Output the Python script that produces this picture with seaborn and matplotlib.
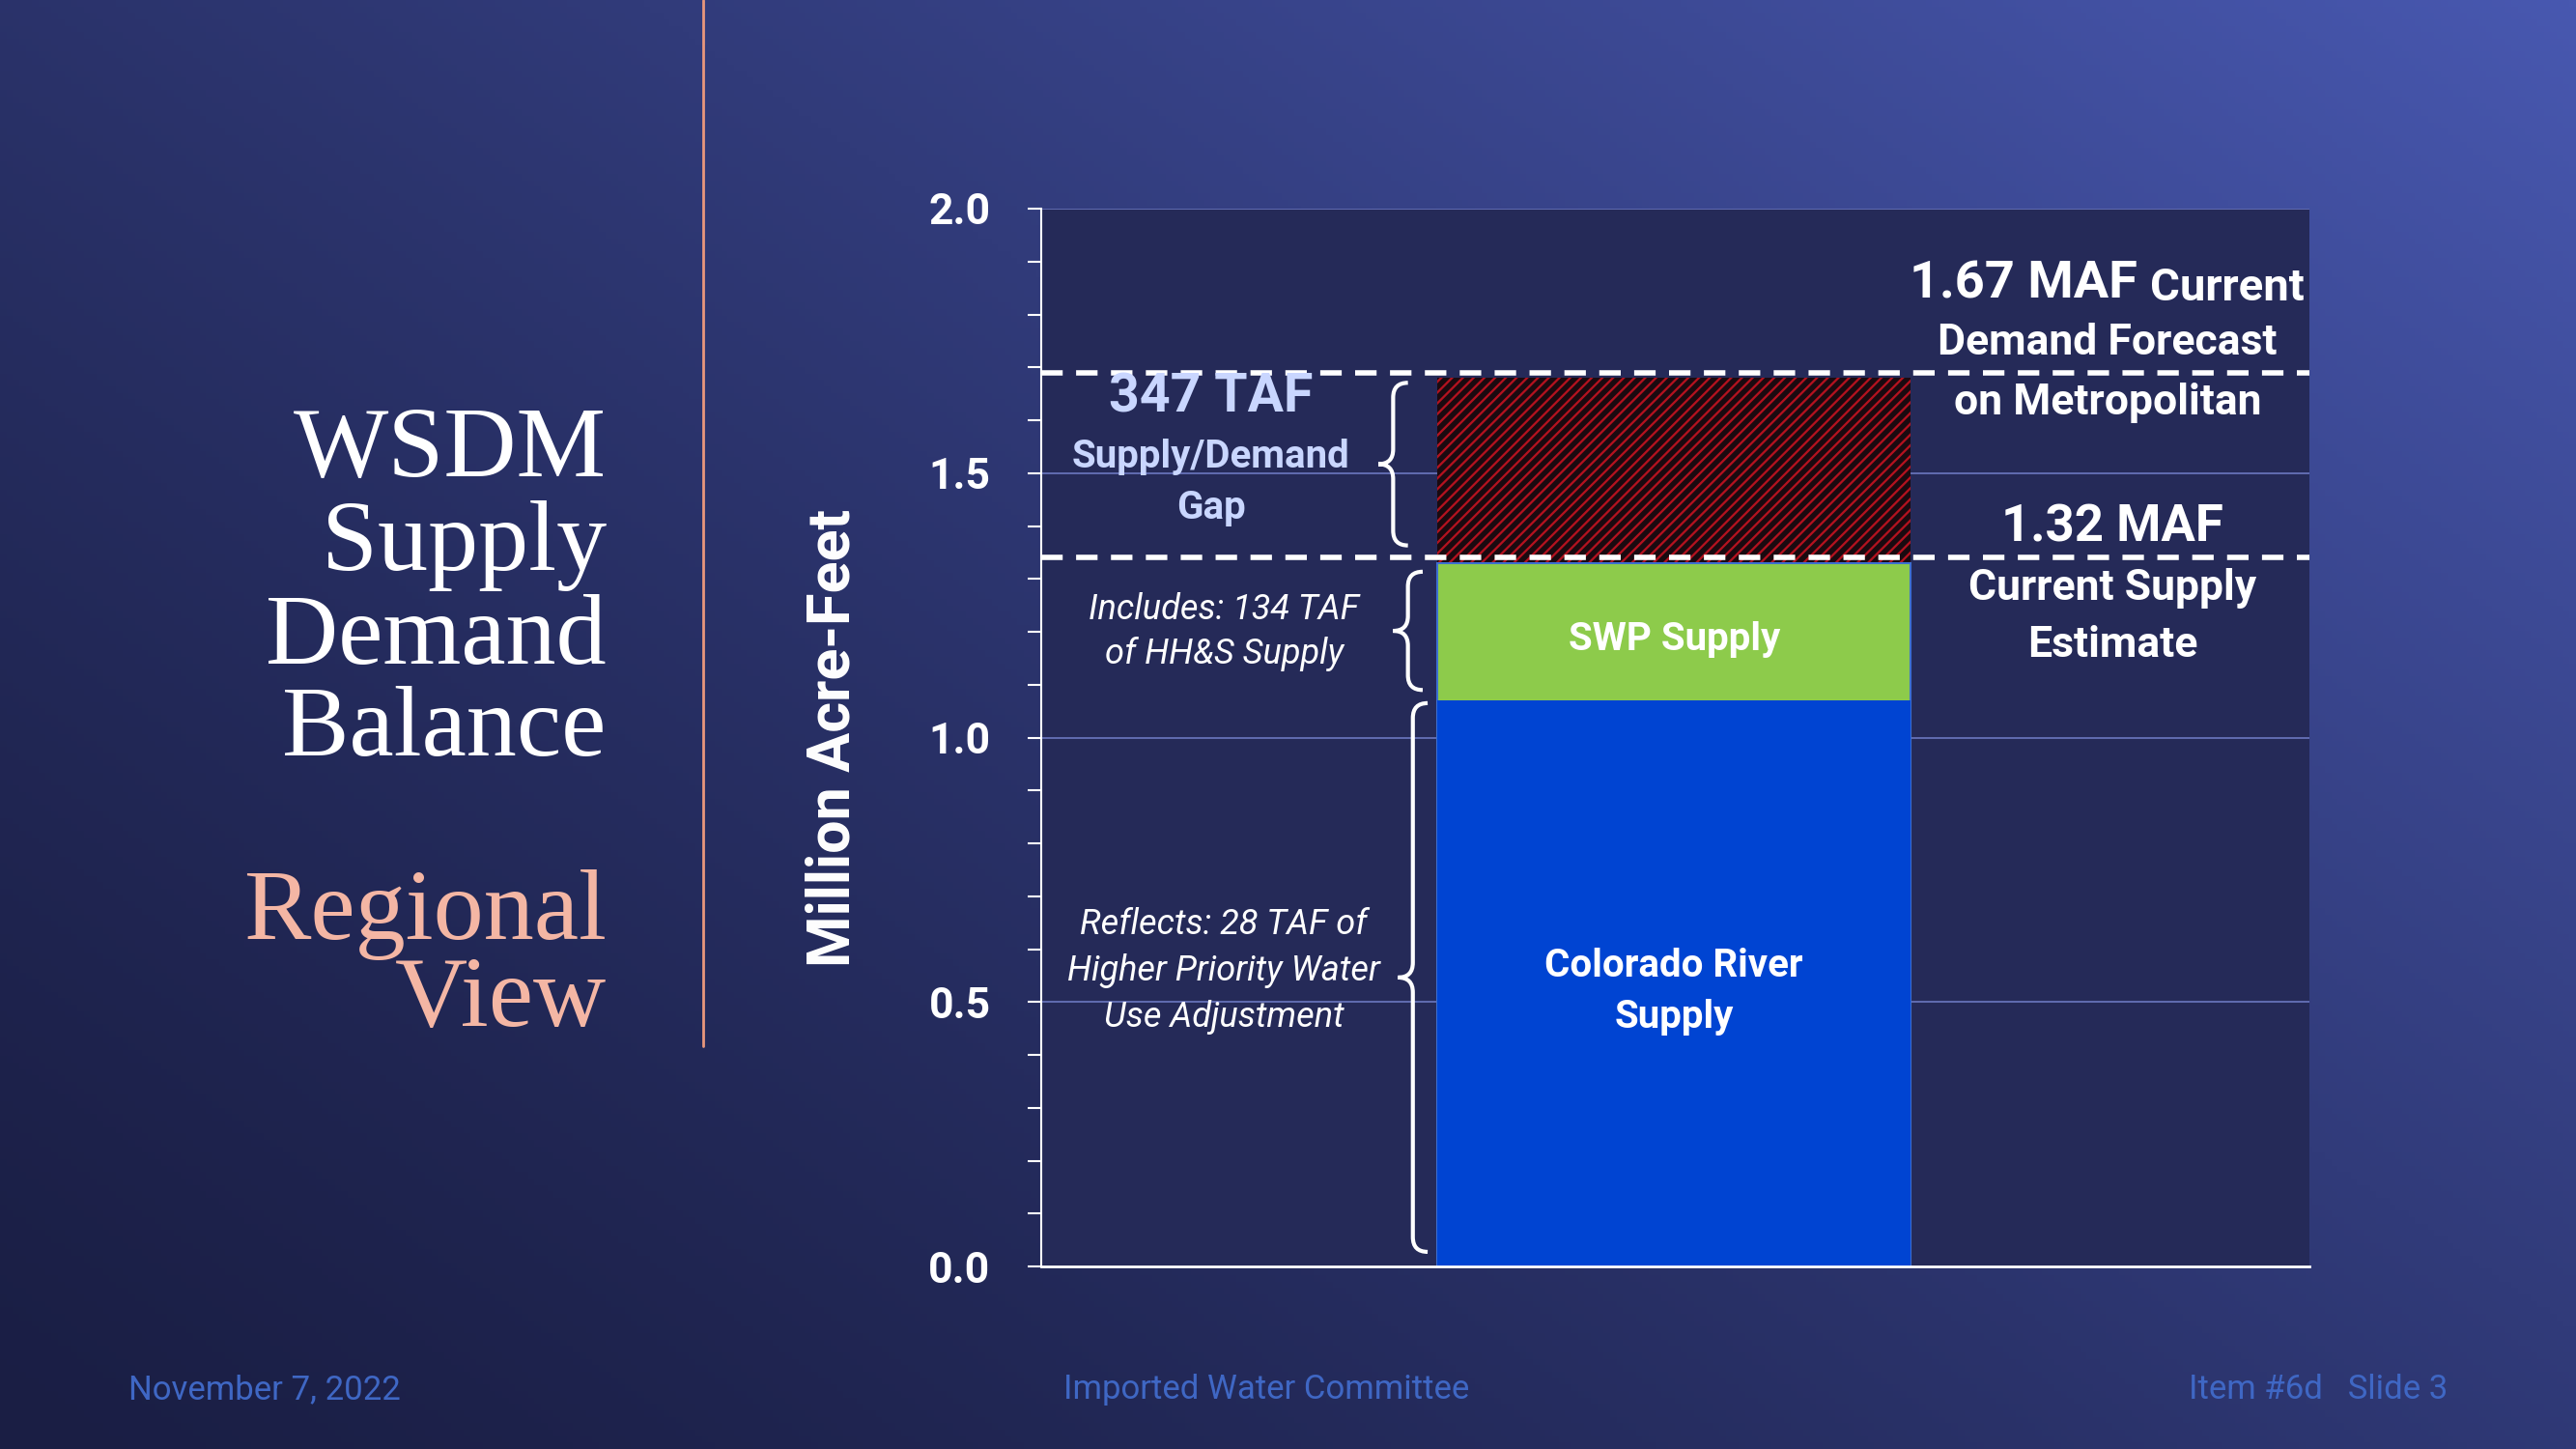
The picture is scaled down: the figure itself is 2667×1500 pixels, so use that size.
import numpy as np
import matplotlib
matplotlib.use("Agg")
import matplotlib.pyplot as plt
import seaborn as sns
from matplotlib.path import Path
from matplotlib.patches import PathPatch

# values (million acre-feet)
layers = ["Demand Gap", "SWP Supply", "Colorado River Supply"]
layer_tops = [1.68, 1.33, 1.07]          # cumulative tops, drawn back to front
layer_colors = ["#b3121f", "#8dcb4b", "#0044d2"]
demand_line = 1.69
supply_line = 1.34
yticks = [0.0, 0.5, 1.0, 1.5, 2.0]

sns.set_theme(style="white")
plt.rcParams["font.family"] = ["Roboto", "DejaVu Sans"]
plt.rcParams["hatch.linewidth"] = 4.0

W, H = 1568, 882  # reference pixel frame used for placement
fig = plt.figure(figsize=(26.67, 15), dpi=100)

def fx(x):
    return x / W

def fy(y):
    return 1 - y / H

# gradient background
bg = fig.add_axes([0, 0, 1, 1])
gx, gy = np.meshgrid(np.linspace(0, 1, 400), np.linspace(0, 1, 225))
t = np.clip(0.55 * gx + 0.45 * (1 - gy), 0, 1)[..., None]
c0 = np.array([0x1a, 0x1e, 0x44]) / 255
c1 = np.array([0x48, 0x58, 0xb0]) / 255
img = c0 + (c1 - c0) * t ** 1.3
bg.imshow(img, aspect="auto", extent=[0, 1, 0, 1], origin="upper")
bg.set_axis_off()

ax = fig.add_axes([fx(634), fy(771), fx(1406) - fx(634), fy(127) - fy(771)])
ax.set_facecolor("#252a58")
for name, top, col in zip(layers, layer_tops, layer_colors):
    sns.barplot(x=["bar"], y=[top], color=col, ax=ax, width=0.8,
                saturation=1, edgecolor="none")
gap_patch, swp_patch, col_patch = ax.patches[0], ax.patches[1], ax.patches[2]
gap_patch.set_facecolor("#b3121f")
gap_patch.set_hatch("///")
gap_patch.set_edgecolor("#1a0a10")
gap_patch.set_linewidth(0)
swp_patch.set_edgecolor("#3d6fd0")
swp_patch.set_linewidth(1.5)

ax.set_xlim(-1.069, 1.076)
ax.set_ylim(0, 2.0)
ax.set_yticks(yticks)
ax.set_yticklabels([f"{v:.1f}" for v in yticks], fontsize=32, fontweight="bold", color="white")
ax.set_yticks(np.arange(0, 2.01, 0.1), minor=True)
ax.tick_params(axis="y", which="both", direction="out", left=True, color="white",
               length=10, width=1.5, pad=28)
ax.set_xticks([])
ax.set_xlabel("")
ax.set_ylabel("Million Acre-Feet", fontsize=44, fontweight="bold", color="white", labelpad=50)
for v in yticks[1:]:
    ax.axhline(v, color="#6b78c0", lw=1.2, zorder=0.5)
for s in ["top", "right"]:
    ax.spines[s].set_visible(False)
ax.spines["left"].set_color("white")
ax.spines["bottom"].set_color("white")
ax.spines["left"].set_linewidth(1.5)
ax.spines["bottom"].set_linewidth(2)
ax.axhline(demand_line, color="white", lw=4, ls=(0, (4, 2.5)), zorder=5)
ax.axhline(supply_line, color="white", lw=4, ls=(0, (4, 2.5)), zorder=5)

# braces
def brace(x0, y1, y2, r=9):
    ym = (y1 + y2) / 2
    pts = [(x0 + r, y1), (x0, y1), (x0, y1 + r), (x0, ym - r), (x0, ym), (x0 - r, ym),
           (x0, ym), (x0, ym + r), (x0, y2 - r), (x0, y2), (x0 + r, y2)]
    codes = [Path.MOVETO, Path.CURVE3, Path.CURVE3, Path.LINETO, Path.CURVE3, Path.CURVE3,
             Path.CURVE3, Path.CURVE3, Path.LINETO, Path.CURVE3, Path.CURVE3]
    p = Path([(fx(a), fy(b)) for a, b in pts], codes)
    fig.add_artist(PathPatch(p, fill=False, ec="white", lw=3, transform=fig.transFigure))

brace(848, 233, 332)
brace(857, 348, 420)
brace(860, 428, 762)

def txt(x, y, s, size, **kw):
    kw.setdefault("color", "white")
    fig.text(fx(x), fy(y), s, fontsize=size, ha=kw.pop("ha", "center"), va="center", **kw)

lb = "#c9d6ff"
txt(737, 242, "347 TAF", 40, fontweight="bold", color=lb)
txt(737, 278, "Supply/Demand", 29, fontweight="bold", color=lb)
txt(737, 309, "Gap", 29, fontweight="bold", color=lb)
txt(745, 371, "Includes: 134 TAF", 26, style="italic")
txt(745, 398, "of HH&S Supply", 26, style="italic")
txt(745, 563, "Reflects: 28 TAF of", 26, style="italic")
txt(745, 591, "Higher Priority Water", 26, style="italic")
txt(745, 619, "Use Adjustment", 26, style="italic")
txt(1019, 389, "SWP Supply", 29, fontweight="bold")
txt(1019, 588, "Colorado River", 29, fontweight="bold")
txt(1019, 619, "Supply", 29, fontweight="bold")
txt(1301, 173, "1.67 MAF", 39, fontweight="bold", ha="right")
txt(1309, 175, "Current", 34, fontweight="bold", ha="left")
txt(1283, 209, "Demand Forecast", 32, fontweight="bold")
txt(1283, 245, "on Metropolitan", 32, fontweight="bold")
txt(1286, 321, "1.32 MAF", 38, fontweight="bold")
txt(1286, 358, "Current Supply", 32, fontweight="bold")
txt(1286, 393, "Estimate", 32, fontweight="bold")

# title block
serif = ["Liberation Serif", "DejaVu Serif"]
for y, s in zip([275, 332, 389, 445], ["WSDM", "Supply", "Demand", "Balance"]):
    txt(369, y, s, 75, ha="right", family=serif)
for y, s in zip([557, 610], ["Regional", "View"]):
    txt(369, y, s, 75, ha="right", family=serif, color="#f4b6a4")
fig.add_artist(plt.Line2D([fx(428), fx(428)], [fy(0), fy(637)], color="#e8967c", lw=2,
                          transform=fig.transFigure))

fc = "#3f67c4"
txt(78, 846, "November 7, 2022", 25, ha="left", color=fc)
txt(771, 846, "Imported Water Committee", 25, color=fc)
txt(1490, 846, "Item #6d   Slide 3", 25, ha="right", color=fc)

fig.savefig("out.png", dpi=100)
